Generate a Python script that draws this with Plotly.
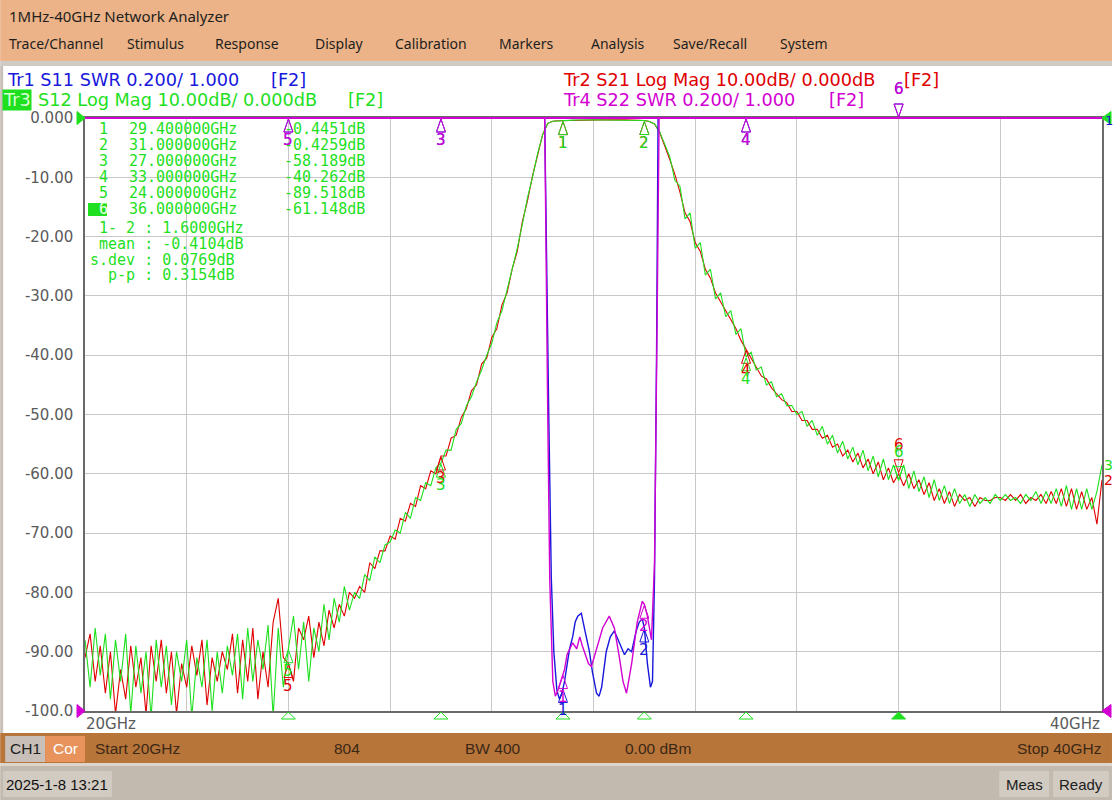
import numpy as np
import plotly.graph_objects as go

# ---------------- data ----------------
freq_ghz = [round(20.0 + 0.1 * i, 1) for i in range(201)]   # sweep grid (GHz)

s12_db = [
    -88, -96, -86, -94, -87, -98, -88, -95, -87, -100.5,
    -89, -97, -90, -101, -88, -96, -89, -99, -90, -95,
    -88, -101, -91, -96, -88, -100, -90, -97, -89, -94,
    -87, -98, -86, -95, -88, -93, -85.5, -101, -86, -96,
    -89.5, -84, -93, -85, -95, -86, -90, -82, -88, -81,
    -85, -79, -83, -80, -81, -77, -78, -74, -75, -72,
    -71.5, -69.5, -70, -66.5, -67.5, -64, -64.5, -61.5, -62, -59,
    -58.2, -56, -56, -52.5, -51.5, -48.5, -47, -44.5, -42.5, -40,
    -38, -34.5, -32.5, -29, -26, -22, -18, -13.5, -10, -6,
    -2.8, -0.9, -0.55, -0.47, -0.445, -0.40, -0.36, -0.33, -0.30, -0.30,
    -0.28, -0.30, -0.33, -0.35, -0.34, -0.31, -0.30, -0.32, -0.35, -0.39,
    -0.426, -0.6, -1.0, -2.3, -4.3, -6.5, -10.5, -11.5, -17, -16,
    -22, -21, -26.5, -25.5, -30.5, -29.5, -33.5, -32.5, -36.5, -35.5,
    -40.26, -39.5, -42.5, -42, -45, -44.5, -47, -46.5, -48.5, -48.5,
    -50, -49.5, -52, -51, -53.5, -52, -55, -53.5, -56.5, -54.5,
    -57.5, -55.5, -58.5, -56, -59.5, -57, -60.5, -57.5, -61, -58.5,
    -61.15, -58.5, -62.5, -59.5, -63, -60.5, -64, -61, -64.5, -62,
    -65, -62.5, -65, -63.5, -65.5, -63.5, -65, -64, -65, -63.5,
    -64.5, -63.5, -64.5, -64, -65, -63.5, -64.5, -63, -65, -63,
    -65, -62.5, -65.5, -62, -66, -62.5, -66, -62.5, -66, -63,
    -58.5,
]

s21_db = [
    -91, -87, -95, -89, -97, -90, -100.5, -93, -98, -89,
    -96, -91, -100.5, -89, -95, -88, -97, -90, -100.5, -92,
    -96, -89, -94, -88, -99, -91, -95, -90, -93, -87,
    -97, -88, -95, -86, -98, -90, -96, -85, -81, -91,
    -92, -95, -86, -88, -84, -91, -85, -89, -83, -86,
    -82, -84, -80, -81, -79, -80, -75, -76, -73, -73,
    -70.5, -71, -67.5, -68, -65, -65.5, -62, -62.5, -59.5, -60,
    -57, -57, -54, -53.5, -50.5, -49, -46, -45, -41.5, -40.5,
    -37, -35.5, -31.5, -29.5, -25.5, -22.5, -17.5, -14, -9.8, -6.2,
    -2.8, -0.9, -0.55, -0.47, -0.44, -0.41, -0.37, -0.34, -0.31, -0.30,
    -0.29, -0.31, -0.32, -0.36, -0.33, -0.32, -0.31, -0.33, -0.36, -0.40,
    -0.43, -0.6, -1.0, -2.4, -4.6, -7, -9.5, -12.5, -16, -17.5,
    -21, -22.5, -25.5, -27, -29.5, -31, -32.5, -34, -35.5, -37.5,
    -39, -40.5, -42, -43.5, -44, -45.5, -46.5, -47.5, -48, -49.5,
    -49.5, -51, -51, -52.5, -52.5, -54, -53.5, -55.5, -55, -57,
    -56, -58, -56.5, -59, -57.5, -60, -58, -61, -59, -61.5,
    -60, -62, -60, -62.5, -61, -63.5, -61.5, -64.5, -62.5, -65,
    -63, -65.5, -63.5, -64.5, -64, -65.5, -64, -64.5, -64.5, -64,
    -64, -64.5, -63.5, -64.5, -63.5, -65, -64, -64.5, -63.5, -65,
    -63, -65, -62.5, -65.5, -62.5, -66, -63, -66, -64, -68.5,
    -61,
]

# SWR traces (top of display = 3.000, off-scale values shown pinned at top)
s11_freq = [20.0, 29.04, 29.12, 29.17, 29.22, 29.28, 29.33, 29.38, 29.43, 29.48,
            29.53, 29.59, 29.64, 29.69, 29.76, 29.82, 29.87, 29.92, 29.98, 30.06,
            30.11, 30.16, 30.25, 30.33, 30.41, 30.51, 30.61, 30.68, 30.75, 30.84,
            30.90, 30.96, 31.00, 31.06, 31.12, 31.16, 31.20, 31.24, 31.27, 40.0]
s11_swr = [3.0, 3.0, 2.0, 1.45, 1.2, 1.07, 1.04, 1.06, 1.10, 1.16,
           1.21, 1.25, 1.30, 1.32, 1.33, 1.28, 1.24, 1.20, 1.13, 1.06,
           1.05, 1.08, 1.20, 1.25, 1.27, 1.23, 1.19, 1.21, 1.20, 1.27,
           1.30, 1.31, 1.28, 1.16, 1.08, 1.10, 1.45, 2.2, 3.0, 3.0]

s22_freq = [20.0, 29.04, 29.10, 29.14, 29.20, 29.25, 29.30, 29.36, 29.43, 29.48,
            29.53, 29.59, 29.67, 29.73, 29.78, 29.82, 29.90, 29.96, 30.06, 30.18,
            30.31, 30.41, 30.51, 30.58, 30.65, 30.75, 30.86, 30.96, 31.00, 31.06,
            31.14, 31.20, 31.25, 31.29, 40.0]
s22_swr = [3.0, 3.0, 2.0, 1.44, 1.10, 1.05, 1.07, 1.10, 1.14, 1.19,
           1.21, 1.23, 1.21, 1.25, 1.22, 1.20, 1.16, 1.15, 1.21, 1.28,
           1.32, 1.28, 1.18, 1.10, 1.06, 1.16, 1.30, 1.37, 1.36, 1.32,
           1.24, 1.5, 2.3, 3.0, 3.0]

marker_ids = ["1", "2", "3", "4", "5", "6"]
marker_freq = [29.4, 31.0, 27.0, 33.0, 24.0, 36.0]
marker_readout = ["-0.4451dB", "-0.4259dB", "-58.189dB", "-40.262dB", "-89.518dB", "-61.148dB"]
stat_labels = ["1- 2", "mean", "s.dev", "p-p"]
stat_values = ["1.6000GHz", "-0.4104dB", "0.0769dB", "0.3154dB"]
active_marker = 5

ytick_vals = [0, -10, -20, -30, -40, -50, -60, -70, -80, -90, -100]
ytick_text = ["0.000", "-10.00", "-20.00", "-30.00", "-40.00", "-50.00",
              "-60.00", "-70.00", "-80.00", "-90.00", "-100.0"]
xtick_vals = [20, 22, 24, 26, 28, 30, 32, 34, 36, 38, 40]

menu_items = ["Trace/Channel", "Stimulus", "Response", "Display", "Calibration",
              "Markers", "Analysis", "Save/Recall", "System"]

# ---------------- styling ----------------
C_GREEN = "#1EE01E"
C_RED = "#E00000"
C_BLUE = "#1818DC"
C_MAG = "#D200D2"
GRID = "#C8C8C8"
PEACH = "#EBB387"
BROWN = "#B8753A"
GREYBAND = "#C2BAAE"
BOXGREY = "#D2CBC2"

W, H = 1114, 800
L, R, T, B = 85, 1104, 118, 711
PW, PH = R - L, B - T


def px(x):
    return (x - L) / PW


def py(y):
    return (B - y) / PH


shapes = []
annotations = []


def rect(x0, y0, x1, y1, color, layer="below"):
    shapes.append(dict(type="rect", xref="paper", yref="paper",
                       x0=px(x0), x1=px(x1), y0=py(y1), y1=py(y0),
                       fillcolor=color, line=dict(width=0), layer=layer))


def text(x, y, s, color, size, family, anchor="left", bg=None):
    d = dict(xref="paper", yref="paper", x=px(x), y=py(y), text=s, showarrow=False,
             xanchor=anchor, yanchor="middle", borderpad=0,
             font=dict(color=color, size=size, family=family))
    if bg:
        d["bgcolor"] = bg
    annotations.append(d)


# ---------------- figure & traces ----------------
fig = go.Figure()
fig.add_trace(go.Scatter(x=s11_freq, y=s11_swr, yaxis="y2", mode="lines",
                         line=dict(color=C_BLUE, width=1.4), hoverinfo="skip"))
fig.add_trace(go.Scatter(x=s22_freq, y=s22_swr, yaxis="y2", mode="lines",
                         line=dict(color=C_MAG, width=1.4), hoverinfo="skip"))
fig.add_trace(go.Scatter(x=freq_ghz, y=s21_db, mode="lines",
                         line=dict(color=C_RED, width=1.1), hoverinfo="skip"))
fig.add_trace(go.Scatter(x=freq_ghz, y=s12_db, mode="lines",
                         line=dict(color=C_GREEN, width=1.1), hoverinfo="skip"))

# ---------------- window chrome ----------------
rect(0, 0, W, 61, PEACH)
rect(0, 61, W, 66, "#CFCAC4")
rect(0, 66, 3, 733, "#C8C0B8")
rect(0, 733, W, 763, BROWN)
rect(5, 736, 45, 762, "#C8C0B8")
rect(45, 736, 85, 762, "#E8935C")
rect(0, 763, W, 766, "#DDD5CB")
rect(0, 766, W, 800, GREYBAND)
rect(3, 771, 112, 797, BOXGREY)
rect(1001, 771, 1051, 797, BOXGREY)
rect(1055, 771, 1111, 797, BOXGREY)

UI = "Noto Sans"
text(8, 16, "1MHz-40GHz Network Analyzer", "#1E1E1E", 15, UI)
menu_x = [8, 126, 214, 314, 395, 499, 591, 673, 780]
for name, mx in zip(menu_items, menu_x):
    text(mx, 44, name, "#1E1E1E", 14, UI)

ST = "Liberation Sans"
text(25, 748, "CH1", "#202020", 15.5, ST, "center")
text(65, 748, "Cor", "#FFFFFF", 15.5, ST, "center")
text(94, 748, "Start %dGHz" % freq_ghz[0], "#3A2816", 15.5, ST)
text(333, 748, str(804), "#3A2816", 15.5, ST)
text(465, 748, "BW 400", "#3A2816", 15.5, ST)
text(625, 748, "0.00 dBm", "#3A2816", 15.5, ST)
text(1104, 748, "Stop %dGHz" % freq_ghz[-1], "#3A2816", 15.5, ST, "right")
text(57, 784, "2025-1-8 13:21", "#101010", 15, ST, "center")
text(1026, 784, "Meas", "#202020", 15, ST, "center")
text(1083, 784, "Ready", "#202020", 15, ST, "center")

# trace titles
HF = "DejaVu Sans"
HS = 17.7
text(6, 80, "Tr1 S11 SWR 0.200/ 1.000", C_BLUE, HS, HF)
text(270, 80, "[F2]", C_BLUE, HS, HF)
text(2, 100, "Tr3", "#D8FFD8", HS, HF, bg=C_GREEN)
text(37, 100, "S12 Log Mag 10.00dB/ 0.000dB", C_GREEN, HS, HF)
text(348, 100, "[F2]", C_GREEN, HS, HF)
text(563, 80, "Tr2 S21 Log Mag 10.00dB/ 0.000dB", C_RED, HS, HF)
text(905, 80, "[F2]", C_RED, HS, HF)
text(563, 100, "Tr4 S22 SWR 0.200/ 1.000", C_MAG, HS, HF)
text(829, 100, "[F2]", C_MAG, HS, HF)

# x range labels
text(85, 724, "%dGHz" % freq_ghz[0], "#5A5A5A", 15, HF)
text(1103, 724, "%dGHz" % freq_ghz[-1], "#5A5A5A", 15, HF, "right")

# marker readout table
MF = "DejaVu Sans Mono"
NB = "\u00a0"
row_y = [129, 145, 161, 177, 193, 209]
rect(88, 203, 107, 216, C_GREEN, layer="above")
for k, (mid, mf, mv) in enumerate(zip(marker_ids, marker_freq, marker_readout)):
    col = "#F0FFF0" if k == active_marker else C_GREEN
    text(98, row_y[k], mid, col, 15, MF)
    text(128, row_y[k], "%.6fGHz" % mf, C_GREEN, 15, MF)
    text(283, row_y[k], mv, C_GREEN, 15, MF)
stat_y = [228, 244, 260, 275]
for lab, val, sy in zip(stat_labels, stat_values, stat_y):
    text(89, sy, (NB * (5 - len(lab))) + lab + NB + ":" + NB + val, C_GREEN, 15, MF)

# ---------------- markers ----------------
trace_specs = [
    ("y2", s11_freq, s11_swr, C_BLUE, 3.0),
    ("y2", s22_freq, s22_swr, C_MAG, 3.0),
    ("y", freq_ghz, s21_db, C_RED, 0.0),
    ("y", freq_ghz, s12_db, C_GREEN, 0.0),
]
for yref, fx, fy, col, top in trace_specs:
    for k, (mid, mf) in enumerate(zip(marker_ids, marker_freq)):
        v = float(np.interp(mf, fx, fy))
        at_top = v >= top
        sref = "paper" if at_top else yref
        anchor = 1 if at_top else v
        if k == active_marker:
            path = "M0,1 L-4.5,14 L4.5,14 Z"
            shift = 29
        else:
            path = "M0,-1 L-4.5,-14 L4.5,-14 Z"
            shift = -22
        shapes.append(dict(type="path", xref="x", yref=sref, xsizemode="pixel",
                           ysizemode="pixel", xanchor=mf, yanchor=anchor, path=path,
                           line=dict(color=col, width=1), layer="above"))
        annotations.append(dict(xref="x", yref=sref, x=mf, y=anchor, yshift=shift,
                                text=mid, showarrow=False, xanchor="center",
                                yanchor="middle",
                                font=dict(color=col, size=15, family=HF)))

# marker position indicators under the x axis
for k, mf in enumerate(marker_freq):
    shapes.append(dict(type="path", xref="x", yref="paper", xsizemode="pixel",
                       ysizemode="pixel", xanchor=mf, yanchor=0,
                       path="M0,-1 L-7,-8 L7,-8 Z",
                       fillcolor=C_GREEN if k == active_marker else "rgba(0,0,0,0)",
                       line=dict(color=C_GREEN, width=1), layer="above"))

# reference-position arrows
for xa, ya, path, col in [(0, 1, "M0,0 L-8,6.5 L-8,-6.5 Z", C_GREEN),
                          (0, 0, "M0,0 L-8,6.5 L-8,-6.5 Z", C_MAG),
                          (1, 1, "M0,0 L9,6.5 L9,-6.5 Z", C_GREEN),
                          (1, 0, "M0,0 L9,6.5 L9,-6.5 Z", C_MAG)]:
    shapes.append(dict(type="path", xref="paper", yref="paper", xsizemode="pixel",
                       ysizemode="pixel", xanchor=xa, yanchor=ya, path=path,
                       fillcolor=col, line=dict(color=col, width=1), layer="above"))

# trace end labels
for lab, yref, fy, col in [("3", "y", s12_db, C_GREEN), ("2", "y", s21_db, C_RED)]:
    annotations.append(dict(xref="x", yref=yref, x=freq_ghz[-1], y=fy[-1], xshift=0,
                            text=lab, showarrow=False, xanchor="left", yanchor="middle",
                            font=dict(color=col, size=14, family=HF)))
annotations.append(dict(xref="x", yref="y2", x=s11_freq[-1], y=s11_swr[-1], xshift=1,
                        yshift=-2, text="1", showarrow=False, xanchor="left",
                        yanchor="middle", font=dict(color=C_BLUE, size=13, family=HF)))

# top frame line (magenta)
shapes.append(dict(type="line", xref="paper", yref="paper", x0=0, x1=1, y0=1, y1=1,
                   line=dict(color=C_MAG, width=2), layer="above"))

fig.update_layout(
    width=W, height=H, autosize=False,
    margin=dict(l=L, r=W - R, t=T, b=H - B, pad=0),
    paper_bgcolor="white", plot_bgcolor="white",
    showlegend=False, hovermode=False,
    xaxis=dict(range=[20, 40], tickvals=xtick_vals, showticklabels=False,
               showgrid=True, gridcolor=GRID, gridwidth=1, zeroline=False,
               showline=True, linecolor="#6A6A6A", linewidth=1.5, mirror=True,
               ticks=""),
    yaxis=dict(range=[-100, 0], tickvals=ytick_vals, ticktext=ytick_text,
               showgrid=True, gridcolor=GRID, gridwidth=1, zeroline=False,
               showline=True, linecolor="#6A6A6A", linewidth=1.5, mirror=True,
               ticks="", ticklabelstandoff=7,
               tickfont=dict(family=HF, size=15, color="#5A5A5A")),
    yaxis2=dict(range=[1.0, 3.0], overlaying="y", showgrid=False, zeroline=False,
                showticklabels=False, showline=False, ticks=""),
    shapes=shapes, annotations=annotations,
)

fig.write_html("out.html", config={"displayModeBar": False},
               post_script="document.body.style.margin='0';document.body.style.overflow='hidden';")
